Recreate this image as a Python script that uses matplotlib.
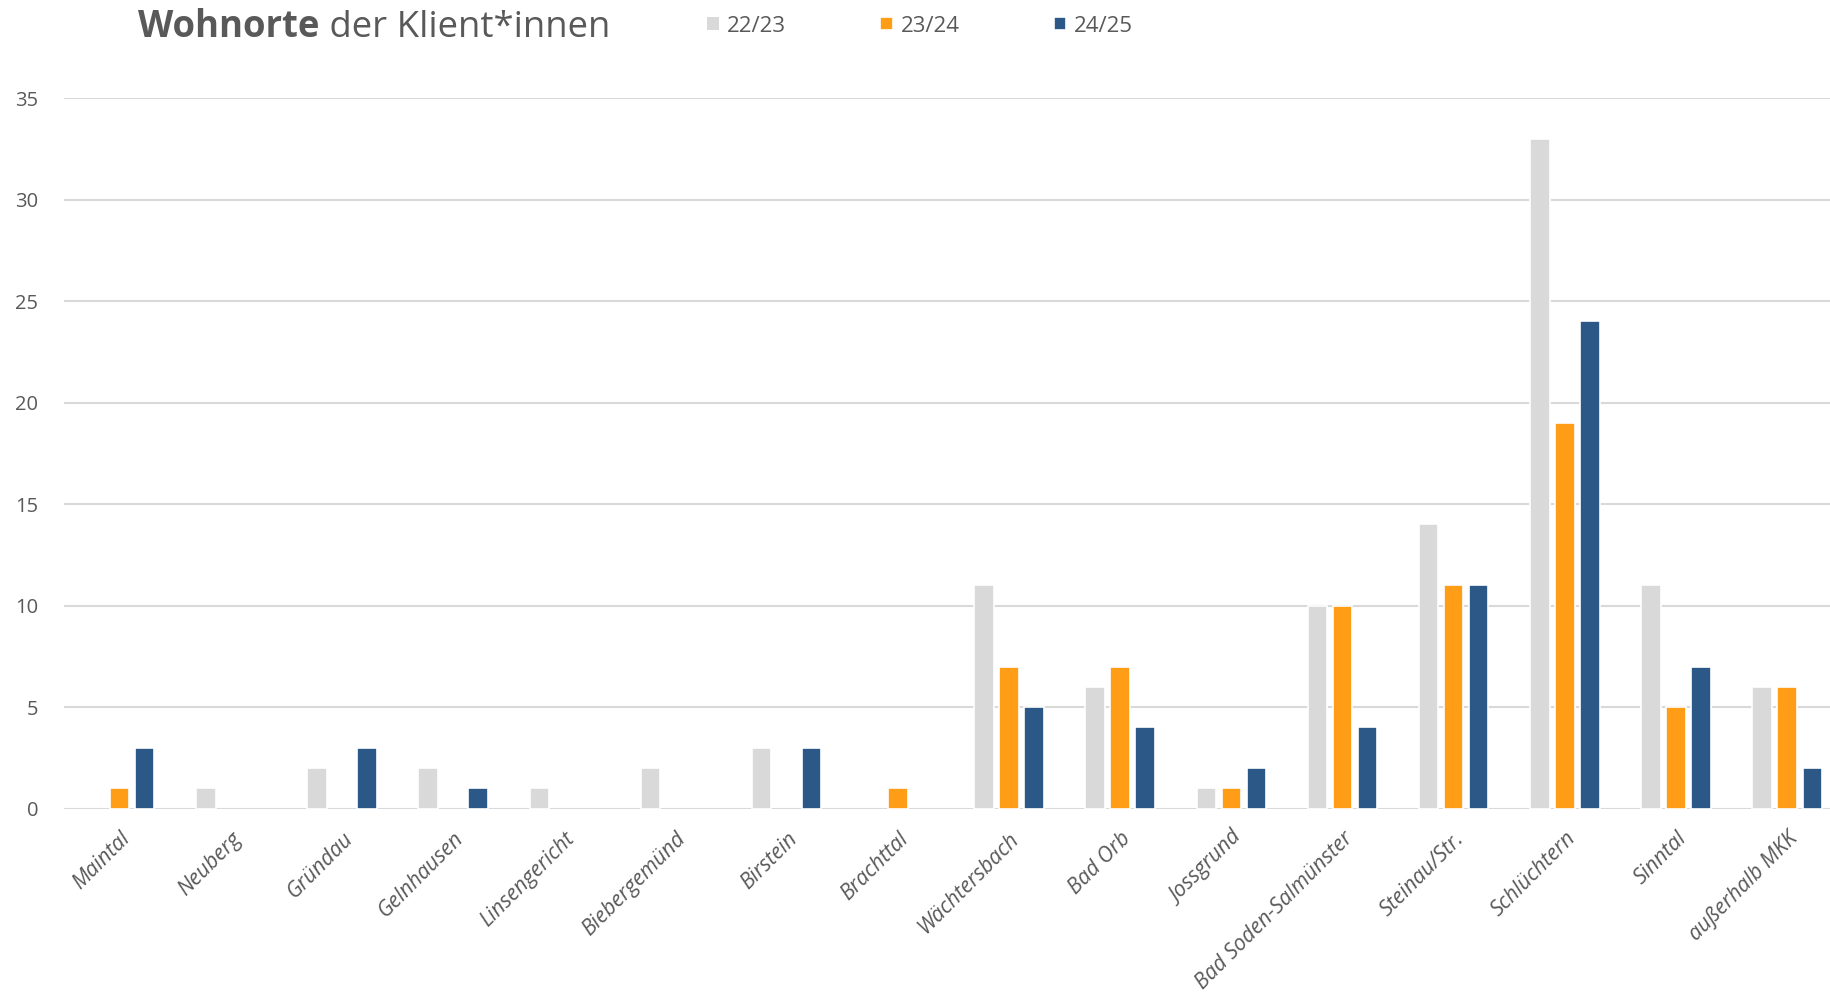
import matplotlib
matplotlib.use('Agg')
import matplotlib.pyplot as plt
import numpy as np

plt.rcParams['font.family'] = ['Open Sans', 'DejaVu Sans']

# data
orte = ['Maintal', 'Neuberg', 'Gründau', 'Gelnhausen', 'Linsengericht',
        'Biebergemünd', 'Birstein', 'Brachttal', 'Wächtersbach', 'Bad Orb',
        'Jossgrund', 'Bad Soden-Salmünster', 'Steinau/Str.', 'Schlüchtern',
        'Sinntal', 'außerhalb MKK']
jahre = ['22/23', '23/24', '24/25']
w2223 = [0, 1, 2, 2, 1, 2, 3, 0, 11, 6, 1, 10, 14, 33, 11, 6]
w2324 = [1, 0, 0, 0, 0, 0, 0, 1, 7, 7, 1, 10, 11, 19, 5, 6]
w2425 = [3, 0, 3, 1, 0, 0, 3, 0, 5, 4, 2, 4, 11, 24, 7, 2]

farben = ['#D9D9D9', '#FF9E16', '#2B5886']
textgrau = '#595959'

fig = plt.figure(figsize=(18.3, 9.97), dpi=100)
ax = fig.add_axes([0.035, 0.1889, 0.972, 0.7128])

x = np.arange(len(orte))
breite = 0.175
abstand = 0.225
handles = []
for i, (werte, farbe, label) in enumerate(zip([w2223, w2324, w2425], farben, jahre)):
    lw = [1.2 if v > 0 else 0 for v in werte]
    b = ax.bar(x + (i - 1) * abstand, werte, breite, color=farbe,
               edgecolor='white', linewidth=lw, label=label, zorder=3)
    handles.append(b)

ax.set_xlim(-0.5, len(orte) - 0.5)
ax.set_ylim(0, 35)
ax.set_yticks(np.arange(0, 36, 5))
ax.yaxis.grid(True, color='#D9D9D9', linewidth=1.5, zorder=0)
ax.set_axisbelow(True)
for s in ax.spines.values():
    s.set_visible(False)
ax.tick_params(axis='both', length=0, colors=textgrau, labelsize=14.5)
ax.tick_params(axis='y', pad=18.5)
ax.set_xticks(x)
ax.set_xticklabels(orte, rotation=45, ha='right', va='top',
                   rotation_mode='anchor', style='italic', fontsize=15.3)
ax.tick_params(axis='x', pad=14)

# title: bold first word, regular rest
t1 = fig.text(138 / 1830, 1 - 37 / 997, 'Wohnorte', fontsize=26.3, fontweight='bold',
              color=textgrau, ha='left', va='baseline')
ax.annotate(' der Klient*innen', xy=(1, 0), xycoords=t1, fontsize=26.3,
            color=textgrau, ha='left', va='bottom', annotation_clip=False)

fig.legend(handles=handles, labels=jahre, loc='center left',
           bbox_to_anchor=(707 / 1830, 1 - 26 / 997), ncol=3, frameon=False,
           fontsize=16, labelcolor=textgrau, handlelength=0.55, handleheight=0.55,
           handletextpad=0.35, columnspacing=4.25, borderaxespad=0, borderpad=0)

fig.savefig('out.png', dpi=100, facecolor='white')
